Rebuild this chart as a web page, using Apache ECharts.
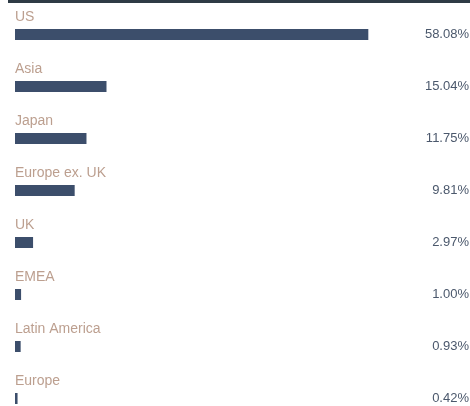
<!DOCTYPE html>
<html>
<head>
<meta charset="utf-8">
<script src="https://cdn.jsdelivr.net/npm/echarts@6/dist/echarts.min.js"></script>
<style>
html,body{margin:0;padding:0;background:#fff;}
#c{width:470px;height:406px;}
</style>
</head>
<body>
<div id="c"></div>
<script>
var categories = ["US", "Asia", "Japan", "Europe ex. UK", "UK", "EMEA", "Latin America", "Europe"];
var values = [58.08, 15.04, 11.75, 9.81, 2.97, 1.00, 0.93, 0.42];
var valueLabels = values.map(function (v) { return v.toFixed(2) + "%"; });

var chart = echarts.init(document.getElementById('c'), null, { renderer: 'canvas' });
chart.setOption({
  animation: false,
  backgroundColor: '#ffffff',
  graphic: [{
    type: 'rect',
    shape: { x: 8, y: 0, width: 462, height: 3 },
    style: { fill: '#2e3b45' },
    silent: true
  }],
  grid: { left: 15, top: 8.5, width: 365, height: 416, containLabel: false, outerBoundsMode: 'none' },
  xAxis: { type: 'value', min: 0, max: 60, show: false },
  yAxis: [{
    type: 'category', data: categories, inverse: true, show: false
  }, {
    type: 'category', data: valueLabels, inverse: true, position: 'right',
    axisLine: { show: false }, axisTick: { show: false }, splitLine: { show: false },
    axisLabel: {
      show: true, align: 'right', margin: 89,
      color: '#4b586c', fontSize: 13, fontFamily: 'Liberation Sans, Arial, sans-serif'
    }
  }],
  series: [{
    type: 'bar', yAxisIndex: 0, data: values, barWidth: 11,
    itemStyle: { color: '#3c4e6b' },
    label: {
      show: true, position: [0, -12], align: 'left', verticalAlign: 'middle',
      formatter: '{b}', color: '#bc9f8f', fontSize: 14,
      fontFamily: 'Liberation Sans, Arial, sans-serif'
    }
  }]
});
</script>
</body>
</html>
